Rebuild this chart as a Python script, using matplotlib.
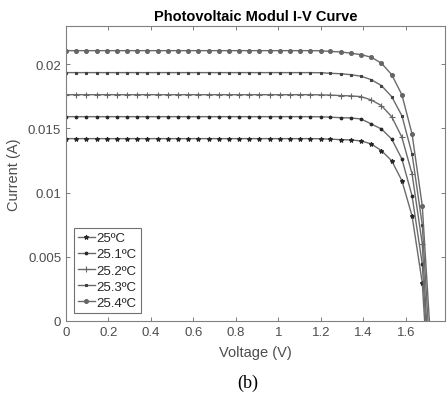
import matplotlib.pyplot as plt

# Voltage sweep (V)
voltage = [0.000, 0.048, 0.096, 0.144, 0.192, 0.240, 0.287, 0.335, 0.383, 0.431,
           0.479, 0.527, 0.575, 0.623, 0.671, 0.719, 0.766, 0.814, 0.862, 0.910,
           0.958, 1.006, 1.054, 1.102, 1.150, 1.198, 1.245, 1.293, 1.341, 1.389,
           1.437, 1.485, 1.533, 1.581, 1.629, 1.677, 1.724]

# Current (A) for each temperature
i_250 = [0.01420, 0.01420, 0.01420, 0.01420, 0.01420, 0.01420, 0.01420, 0.01420, 0.01420, 0.01420,
         0.01420, 0.01420, 0.01420, 0.01420, 0.01420, 0.01420, 0.01420, 0.01420, 0.01420, 0.01420,
         0.01420, 0.01420, 0.01420, 0.01420, 0.01420, 0.01419, 0.01416, 0.01412, 0.01410, 0.01402,
         0.01379, 0.01326, 0.01248, 0.01093, 0.00818, 0.00296, -0.0095]
i_251 = [0.01591, 0.01591, 0.01591, 0.01591, 0.01591, 0.01591, 0.01591, 0.01591, 0.01591, 0.01591,
         0.01591, 0.01591, 0.01591, 0.01591, 0.01591, 0.01591, 0.01591, 0.01591, 0.01591, 0.01591,
         0.01591, 0.01591, 0.01591, 0.01591, 0.01591, 0.01590, 0.01587, 0.01583, 0.01581, 0.01573,
         0.01534, 0.01495, 0.01417, 0.01262, 0.00974, 0.00444, -0.0089]
i_252 = [0.01762, 0.01762, 0.01762, 0.01762, 0.01762, 0.01762, 0.01762, 0.01762, 0.01762, 0.01762,
         0.01762, 0.01762, 0.01762, 0.01762, 0.01762, 0.01762, 0.01762, 0.01762, 0.01762, 0.01762,
         0.01762, 0.01762, 0.01762, 0.01762, 0.01762, 0.01761, 0.01759, 0.01755, 0.01753, 0.01747,
         0.01721, 0.01677, 0.01591, 0.01431, 0.01145, 0.00600, -0.0080]
i_253 = [0.01934, 0.01934, 0.01934, 0.01934, 0.01934, 0.01934, 0.01934, 0.01934, 0.01934, 0.01934,
         0.01934, 0.01934, 0.01934, 0.01934, 0.01934, 0.01934, 0.01934, 0.01934, 0.01934, 0.01934,
         0.01934, 0.01934, 0.01934, 0.01934, 0.01934, 0.01933, 0.01929, 0.01925, 0.01918, 0.01906,
         0.01879, 0.01833, 0.01747, 0.01599, 0.01301, 0.00748, -0.0056]
i_254 = [0.02105, 0.02105, 0.02105, 0.02105, 0.02105, 0.02105, 0.02105, 0.02105, 0.02105, 0.02105,
         0.02105, 0.02105, 0.02105, 0.02105, 0.02105, 0.02105, 0.02105, 0.02105, 0.02105, 0.02105,
         0.02105, 0.02105, 0.02105, 0.02105, 0.02105, 0.02104, 0.02099, 0.02095, 0.02085, 0.02074,
         0.02054, 0.02007, 0.01918, 0.01762, 0.01456, 0.00898, -0.0036]

labels = ['25ºC', '25.1ºC', '25.2ºC', '25.3ºC', '25.4ºC']
currents = [i_250, i_251, i_252, i_253, i_254]
markers = ['*', '.', '+', 's', 'o']
msizes = [3.2, 3.8, 3.8, 2.0, 2.8]
mfaces = ['0.15', '0.15', '0.4', '0.25', '0.4']

plt.rcParams['font.family'] = 'Liberation Sans'

fig = plt.figure(figsize=(4.48, 4.02), dpi=100)
ax = fig.add_axes([66 / 448, 80 / 402, 379 / 448, 295 / 402])

for cur, lab, mk, ms, fc in zip(currents, labels, markers, msizes, mfaces):
    ax.plot(voltage, cur, color='0.42', lw=1.0, marker=mk, ms=ms,
            mfc=fc, mec=fc, mew=0.8, label=lab)

ax.set_xlim(0, 1.784)
ax.set_ylim(0, 0.02297)
ax.set_xticks([0, 0.2, 0.4, 0.6, 0.8, 1, 1.2, 1.4, 1.6])
ax.set_xticklabels(['0', '0.2', '0.4', '0.6', '0.8', '1', '1.2', '1.4', '1.6'])
ax.set_yticks([0, 0.005, 0.01, 0.015, 0.02])
ax.set_yticklabels(['0', '0.005', '0.01', '0.015', '0.02'])
ax.tick_params(direction='in', top=True, right=True, length=3, width=0.6,
               colors='0.4', labelsize=9.5, labelcolor='0.3')
for sp in ax.spines.values():
    sp.set_color('0.5')
    sp.set_linewidth(0.8)

ax.set_title('Photovoltaic Modul I-V Curve', fontsize=10.5, fontweight='bold', pad=4)
ax.set_xlabel('Voltage (V)', fontsize=10.5, color='0.3', labelpad=5)
ax.set_ylabel('Current (A)', fontsize=10.5, color='0.3', labelpad=5)

leg = ax.legend(loc='lower left', bbox_to_anchor=(0.02, 0.027), fontsize=9.5,
                frameon=True, fancybox=False, handlelength=1.3, handletextpad=0.15,
                borderpad=0.3, labelspacing=0.3, borderaxespad=0)
leg.get_frame().set_edgecolor('0.3')
leg.get_frame().set_linewidth(0.8)
for t in leg.get_texts():
    t.set_color('0.15')

fig.text(0.553, 0.035, '(b)', ha='center', fontsize=13, family='Liberation Serif')

fig.savefig('out.png')
